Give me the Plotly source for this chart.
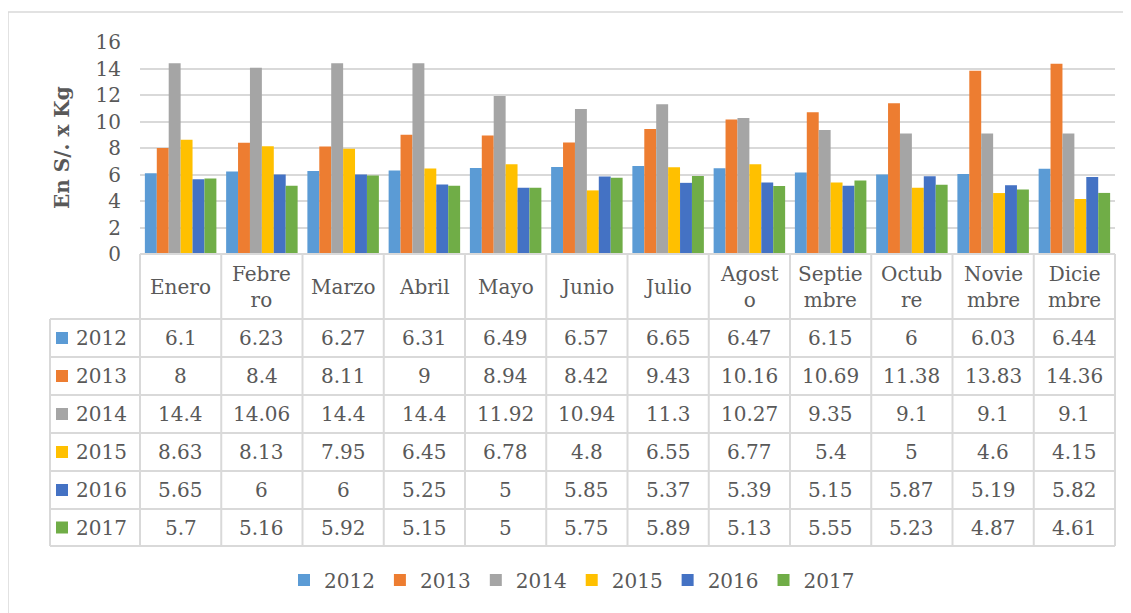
import plotly.graph_objects as go

months = ["Enero", "Febrero", "Marzo", "Abril", "Mayo", "Junio", "Julio",
          "Agosto", "Septiembre", "Octubre", "Noviembre", "Diciembre"]
month_labels = ["Enero", "Febre<br>ro", "Marzo", "Abril", "Mayo", "Junio", "Julio",
                "Agost<br>o", "Septie<br>mbre", "Octub<br>re", "Novie<br>mbre", "Dicie<br>mbre"]
years = ["2012", "2013", "2014", "2015", "2016", "2017"]

v2012 = [6.1, 6.23, 6.27, 6.31, 6.49, 6.57, 6.65, 6.47, 6.15, 6, 6.03, 6.44]
v2013 = [8, 8.4, 8.11, 9, 8.94, 8.42, 9.43, 10.16, 10.69, 11.38, 13.83, 14.36]
v2014 = [14.4, 14.06, 14.4, 14.4, 11.92, 10.94, 11.3, 10.27, 9.35, 9.1, 9.1, 9.1]
v2015 = [8.63, 8.13, 7.95, 6.45, 6.78, 4.8, 6.55, 6.77, 5.4, 5, 4.6, 4.15]
v2016 = [5.65, 6, 6, 5.25, 5, 5.85, 5.37, 5.39, 5.15, 5.87, 5.19, 5.82]
v2017 = [5.7, 5.16, 5.92, 5.15, 5, 5.75, 5.89, 5.13, 5.55, 5.23, 4.87, 4.61]
series = [v2012, v2013, v2014, v2015, v2016, v2017]
colors = ["#5B9BD5", "#ED7D31", "#A5A5A5", "#FFC000", "#4472C4", "#70AD47"]

y_ticks = [0, 2, 4, 6, 8, 10, 12, 14, 16]

FONT = "DejaVu Serif"
TXT = "#595959"
GRID = "#D9D9D9"

OFF = 8  # page body margin
W_FIG, H_FIG = 1131 - OFF, 613 - OFF
L, R, T, B = 140, 1115, 42, 254
PW, PH = R - L, B - T


def px(x):
    return (x - L) / PW


def py(y):
    return (B - y) / PH


fig = go.Figure()
for name, vals, col in zip(years, series, colors):
    fig.add_trace(go.Bar(x=months, y=vals, name=name, marker_color=col,
                         marker_line_width=0))

shapes = []
annotations = []

# outer chart border
shapes.append(dict(type="rect", xref="paper", yref="paper",
                   x0=px(8), x1=px(1131 + 10), y0=py(613 + 10), y1=py(12),
                   line=dict(color=GRID, width=1.5), layer="below"))

# table geometry
col_w = PW / 12
row_edges = [319, 357, 395, 433, 471, 509, 546]
shapes.append(dict(type="line", xref="paper", yref="paper", x0=px(L), x1=px(R),
                   y0=py(B), y1=py(B), line=dict(color=GRID, width=2)))
for ry in row_edges:
    shapes.append(dict(type="line", xref="paper", yref="paper", x0=px(50), x1=px(R),
                       y0=py(ry), y1=py(ry), line=dict(color=GRID, width=2)))
shapes.append(dict(type="line", xref="paper", yref="paper", x0=px(50), x1=px(50),
                   y0=py(319), y1=py(546), line=dict(color=GRID, width=2)))
for i in range(13):
    xx = L + i * col_w
    shapes.append(dict(type="line", xref="paper", yref="paper", x0=px(xx), x1=px(xx),
                       y0=py(B), y1=py(546), line=dict(color=GRID, width=2)))

# header labels
for i, lab in enumerate(month_labels):
    annotations.append(dict(x=i, xref="x", y=py(287), yref="paper", text=lab,
                            showarrow=False, font=dict(family=FONT, size=20, color=TXT),
                            yanchor="middle", xanchor="center"))

# rows
for r, (name, vals, col) in enumerate(zip(years, series, colors)):
    cy = (row_edges[r] + row_edges[r + 1]) / 2
    shapes.append(dict(type="rect", xref="paper", yref="paper",
                       x0=px(56), x1=px(68), y0=py(cy + 6), y1=py(cy - 6),
                       fillcolor=col, line=dict(width=0)))
    annotations.append(dict(x=px(74), xref="paper", y=py(cy), yref="paper", text=name,
                            showarrow=False, xanchor="left", yanchor="middle",
                            font=dict(family=FONT, size=20, color=TXT)))
    for i, v in enumerate(vals):
        annotations.append(dict(x=i, xref="x", y=py(cy), yref="paper", text=f"{v:g}",
                                showarrow=False, xanchor="center", yanchor="middle",
                                font=dict(family=FONT, size=20, color=TXT)))

# y axis title
annotations.append(dict(x=px(62), xref="paper", y=py(148), yref="paper",
                        text="<b>En S/. x Kg</b>", textangle=-90, showarrow=False,
                        xanchor="center", yanchor="middle",
                        font=dict(family=FONT, size=20, color=TXT)))

fig.update_layout(
    width=W_FIG, height=H_FIG,
    margin=dict(l=L - OFF, r=1131 - R, t=T - OFF, b=613 - B, autoexpand=False),
    paper_bgcolor="white", plot_bgcolor="white",
    barmode="group", bargap=0.12, bargroupgap=0.0,
    showlegend=True,
    legend=dict(orientation="h", x=px(572), xanchor="center", y=py(580), yanchor="middle",
                font=dict(family=FONT, size=20, color=TXT), bgcolor="rgba(0,0,0,0)",
                itemwidth=30, tracegroupgap=0),
    xaxis=dict(showticklabels=False, showgrid=False, zeroline=False, showline=False,
               range=[-0.5, 11.5], ticks=""),
    yaxis=dict(range=[0, 16], tickvals=y_ticks, showgrid=True, gridcolor=GRID, gridwidth=1.5,
               zeroline=False, showline=False, ticks="", ticklabelstandoff=18,
               tickfont=dict(family=FONT, size=20, color=TXT)),
    shapes=shapes,
    annotations=annotations,
)

fig.write_html("out.html")
